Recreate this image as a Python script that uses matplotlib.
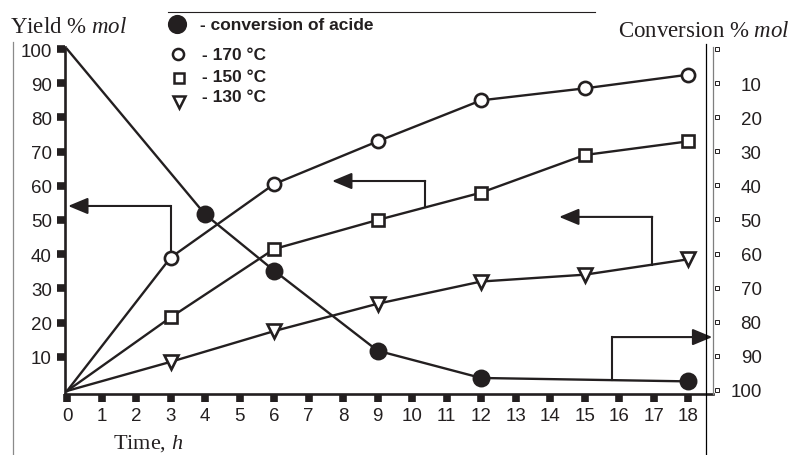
import numpy as np
import matplotlib
matplotlib.use("Agg")
import matplotlib.pyplot as plt
from matplotlib.lines import Line2D
from matplotlib.transforms import blended_transform_factory

# data
hours = [0, 3, 6, 9, 12, 15, 18]
yield_170 = [0, 39, 60.5, 73, 85, 88.5, 92.5]
yield_150 = [0, 21.5, 41.5, 50, 58, 69, 73]
yield_130 = [0, 8.5, 17.5, 25.5, 32, 34, 38.5]

conv_hours = [0, 4, 6, 9, 12, 18]
conversion = [0, 48.5, 65, 88.5, 96.5, 97.5]

x_ticks = list(range(0, 19))
left_ticks = list(range(10, 101, 10))
right_ticks = list(range(0, 101, 10))
right_labels = [""] + [str(v) for v in right_ticks[1:]]

ink = "#231f20"
W, H = 791, 456

plt.rcParams["font.family"] = "Liberation Sans"
plt.rcParams["mathtext.fontset"] = "custom"
plt.rcParams["mathtext.rm"] = "Liberation Serif"
plt.rcParams["mathtext.it"] = "Liberation Serif:italic"


def px(x, y):
    return x / W, 1 - y / H


fig = plt.figure(figsize=(W / 100, H / 100), dpi=100)
ax = fig.add_axes([65 / W, 1 - 395 / H, (713 - 65) / W, (395 - 48) / H])
ax.set_xlim(-0.06, 18.72)
ax.set_ylim(-0.9, 100.6)

line_kw = dict(color=ink, lw=1.7, mew=1.9, clip_on=False, zorder=3,
               markevery=slice(1, None))
ax.plot(hours, yield_170, "-o", ms=9.5, mfc="white", **line_kw)
ax.plot(hours, yield_150, "-s", ms=8.5, mfc="white", **line_kw)
ax.plot(hours, yield_130, "-v", ms=9.5, mfc="white", **line_kw)

ax2 = ax.twinx()
ax2.set_ylim(101.2, -0.6)
ax2.plot(conv_hours, conversion, "-o", ms=11, mfc=ink, **line_kw)

# axes styling
for s in ["top", "right"]:
    ax.spines[s].set_visible(False)
ax.spines["left"].set_linewidth(1.9)
ax.spines["bottom"].set_linewidth(1.9)
ax.spines["left"].set_color(ink)
ax.spines["bottom"].set_color(ink)

ax.set_xticks(x_ticks)
ax.set_yticks(left_ticks)
ax.tick_params(axis="x", direction="out", length=5.5, width=5.5, pad=4,
               labelsize=13.5, color=ink, labelcolor=ink)
ax.tick_params(axis="y", direction="out", length=6, width=5.5, pad=3.5,
               labelsize=13.5, color=ink, labelcolor=ink)

for s in ["top", "left", "bottom"]:
    ax2.spines[s].set_visible(False)
ax2.spines["right"].set_color("#7f7f7f")
ax2.spines["right"].set_linewidth(0.9)
ax2.set_yticks(right_ticks)
ax2.set_yticklabels(right_labels)
ax2.tick_params(axis="y", length=0, pad=35, labelsize=13.5, labelcolor=ink)
for lbl in ax2.get_yticklabels():
    lbl.set_ha("right")

# little hollow squares next to the right axis
tr = blended_transform_factory(ax2.transAxes, ax2.transData)
ax2.plot([1.0065] * len(right_ticks), right_ticks, "s", ms=3, mfc="white",
         mec=ink, mew=0.7, transform=tr, clip_on=False, zorder=4)

# elbow arrows
head = dict(arrowstyle="-|>,head_length=0.6,head_width=0.25",
            mutation_scale=20, lw=1.5, color=ink, shrinkA=0, shrinkB=0)


def elbow(axis, xs, ys_base, y_top, x_tip):
    axis.plot([xs, xs], [ys_base, y_top], color=ink, lw=1.5, zorder=2)
    axis.annotate("", xy=(x_tip, y_top), xytext=(xs, y_top), arrowprops=head,
                  zorder=2)


elbow(ax, 3, yield_170[1], 54.1, 0.03)
elbow(ax, 10.38, np.interp(10.38, hours, yield_150), 61.4, 7.68)
elbow(ax, 16.96, np.interp(16.96, hours, yield_130), 50.9, 14.26)
elbow(ax2, 15.8, np.interp(15.8, conv_hours, conversion), 84.5, 18.7)

# axis titles
fig.text(*px(10, 33), "Yield % $mol$", family="Liberation Serif", size=16.5,
         va="baseline", color=ink)
fig.text(*px(790, 37), "Conversion % $mol$", family="Liberation Serif",
         size=16.5, va="baseline", ha="right", color=ink)
fig.text(*px(113, 449), "Time, $h$", family="Liberation Serif", size=16,
         va="baseline", color=ink)

# legend drawn by hand
legend_rows = [
    ("o", ink, 12, (177, 25), "- conversion of acide", (200, 30)),
    ("o", "white", 8, (178, 55), "- 170 °C", (202, 60)),
    ("s", "white", 7, (179, 79), "- 150 °C", (202, 82)),
    ("v", "white", 8, (179, 103), "- 130 °C", (202, 102)),
]
for m, fc, ms, mpos, label, tpos in legend_rows:
    fig.add_artist(Line2D([mpos[0] / W], [1 - mpos[1] / H], marker=m, ms=ms,
                          mfc=fc, mec=ink, mew=1.8, ls="none",
                          transform=fig.transFigure))
    fig.text(*px(*tpos), label, size=12.5, weight="bold", va="baseline",
             color=ink)

# frame lines of the scanned figure
fig.add_artist(Line2D([168 / W, 595 / W], [1 - 13 / H] * 2, color=ink, lw=0.8,
                      transform=fig.transFigure))
fig.add_artist(Line2D([13 / W] * 2, [1 - 43 / H, 0], color="#8a8a8a", lw=0.9,
                      transform=fig.transFigure))
fig.add_artist(Line2D([706 / W] * 2, [1 - 45 / H, 0], color="black", lw=0.9,
                      transform=fig.transFigure))

fig.savefig("out.png", dpi=100)
